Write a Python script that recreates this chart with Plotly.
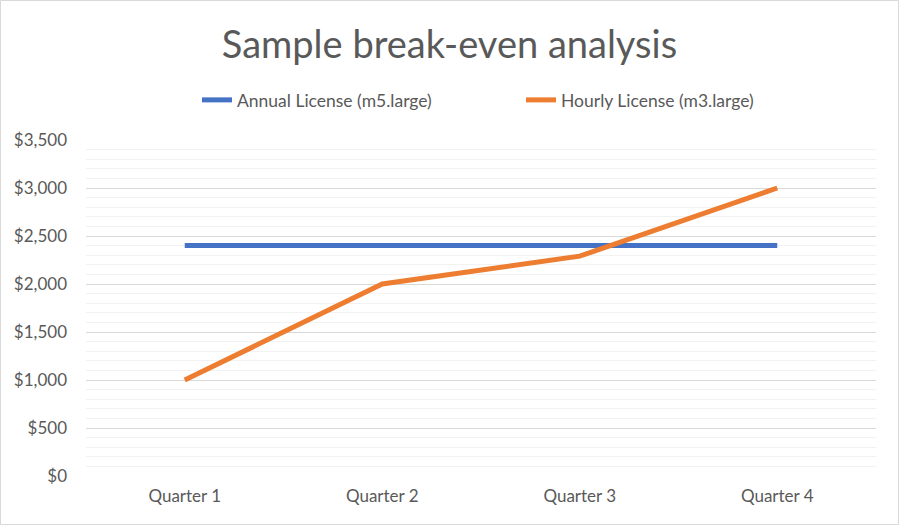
import plotly.graph_objects as go

categories = ["Quarter 1", "Quarter 2", "Quarter 3", "Quarter 4"]
annual = [2400, 2400, 2400, 2400]
hourly = [1000, 2000, 2290, 3000]
series_names = ["Annual License (m5.large)", "Hourly License (m3.large)"]
colors = ["#4472C4", "#ED7D31"]

fig = go.Figure()
fig.add_trace(go.Scatter(x=categories, y=annual, mode="lines", name=series_names[0],
                         line=dict(color=colors[0], width=5), legend="legend"))
fig.add_trace(go.Scatter(x=categories, y=hourly, mode="lines", name=series_names[1],
                         line=dict(color=colors[1], width=5), legend="legend2"))

L, R, T, B = 86, 23, 140, 49
W, H = 899, 525
pw, ph = W - L - R, H - T - B

def px_x(p):
    return (p - L) / pw

def px_y(p):
    return (H - B - p) / ph

legend_font = dict(size=17.5, color="#595959")
fig.update_layout(
    width=W, height=H,
    margin=dict(l=L, r=R, t=T, b=B),
    paper_bgcolor="white", plot_bgcolor="white",
    font=dict(family="Lato, Carlito, Calibri, sans-serif", color="#595959", size=17),
    title=dict(text="Sample break-even analysis", x=0.5, xanchor="center",
               y=1 - 45 / H, yanchor="middle",
               font=dict(size=38, color="#595959")),
    legend=dict(x=px_x(197), xanchor="left", y=px_y(100), yanchor="middle",
                font=legend_font, bgcolor="rgba(0,0,0,0)"),
    legend2=dict(x=px_x(521), xanchor="left", y=px_y(100), yanchor="middle",
                 font=legend_font, bgcolor="rgba(0,0,0,0)"),
    showlegend=True,
    xaxis=dict(showgrid=False, showline=False, zeroline=False, ticks="",
               range=[-0.5, 3.5],
               tickfont=dict(size=17, color="#595959"), ticklabelstandoff=8),
    yaxis=dict(range=[0, 3500], dtick=500, tickprefix="$", tickformat=",.0f",
               showgrid=True, gridcolor="#D9D9D9", gridwidth=1,
               zeroline=False, showline=False, ticks="",
               ticklabelstandoff=18,
               tickfont=dict(size=17, color="#595959"),
               minor=dict(dtick=100, showgrid=True, gridcolor="#F2F2F2", gridwidth=1)),
    shapes=[dict(type="rect", xref="paper", yref="paper",
                 x0=px_x(0.5), x1=px_x(W - 0.5),
                 y0=px_y(H - 0.5), y1=px_y(0.5),
                 line=dict(color="#D9D9D9", width=1), fillcolor="rgba(0,0,0,0)", layer="below")],
)

fig.write_html("out.html", config={"displayModeBar": False},
               post_script="document.body.style.margin='0';document.body.style.overflow='hidden';")
